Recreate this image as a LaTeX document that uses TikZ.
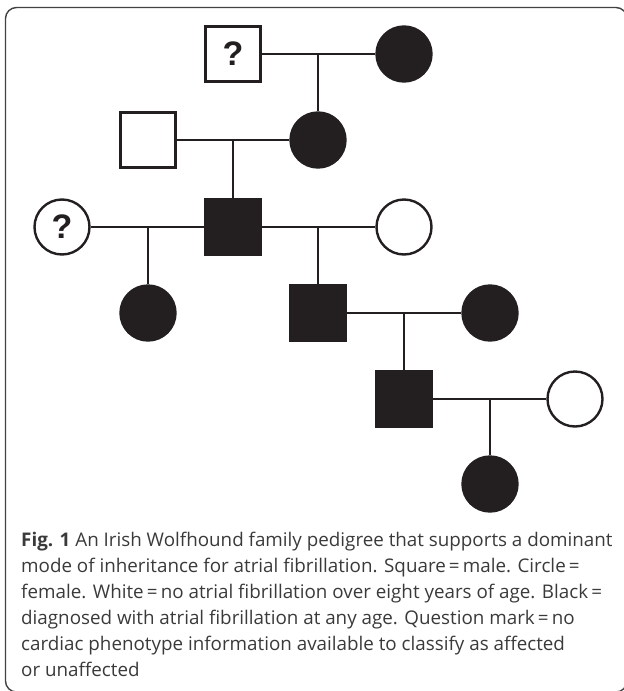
\documentclass[tikz,border=0pt]{standalone}
\usepackage{fontspec}
\setmainfont{Open Sans}
\newfontfamily\qfont{Liberation Sans}
\definecolor{ink}{HTML}{231F20}
\definecolor{captext}{HTML}{3A3A3A}
\begin{document}
\begin{tikzpicture}[x=1pt,y=-1pt,line width=2.4pt,
  person/.style={draw=ink,line width=2.4pt,minimum size=55pt,inner sep=0pt},
  male/.style={person,rectangle},
  female/.style={person,circle},
  aff/.style={fill=ink},
  unaff/.style={fill=white},
  unknown/.style={fill=white,font=\qfont\bfseries\fontsize{34}{34}\selectfont,text=ink},
  link/.style={draw=ink,line width=2.4pt}]
\useasboundingbox (0,0) rectangle (624,691);
\clip (0,0) rectangle (624,691);
% frame
\draw[ink!85,line width=1.4pt,rounded corners=11pt] (5.5,7.5) rectangle (627,692);

% generation 1
\node[male,unknown] (sire1) at (233,54) {?};
\node[female,aff]   (dam1)  at (404,54) {};
% generation 2
\node[male,unaff]   (sire2) at (148,140) {};
\node[female,aff]   (dam2)  at (318,140) {};
% generation 3
\node[female,unknown] (dam3a) at (62,227) {?};
\node[male,aff]       (sire3) at (233,227) {};
\node[female,unaff]   (dam3b) at (404,227) {};
% generation 4
\node[female,aff] (pup4)  at (148,313) {};
\node[male,aff]   (sire4) at (318,313) {};
\node[female,aff] (dam4)  at (490,313) {};
% generation 5
\node[male,aff]     (sire5) at (404,399) {};
\node[female,unaff] (dam5)  at (575,399) {};
% generation 6
\node[female,aff] (pup6) at (490,484) {};

% matings and offspring
\draw[link] (sire1) -- (dam1);
\draw[link] (dam2.north) -- (dam2.north |- sire1.east);
\draw[link] (sire2) -- (dam2);
\draw[link] (sire3.north) -- (sire3.north |- sire2.east);
\draw[link] (dam3a) -- (sire3);
\draw[link] (pup4.north) -- (pup4.north |- dam3a.east);
\draw[link] (sire3) -- (dam3b);
\draw[link] (sire4.north) -- (sire4.north |- sire3.east);
\draw[link] (sire4) -- (dam4);
\draw[link] (sire5.north) -- (sire5.north |- sire4.east);
\draw[link] (sire5) -- (dam5);
\draw[link] (pup6.north) -- (pup6.north |- sire5.east);

% caption (base = last line)
\node[anchor=base west,align=left,inner sep=0pt,text=captext,
  font=\fontsize{18.8}{26}\selectfont] (cap) at (20,676)
  {\textbf{Fig. 1} An Irish Wolfhound family pedigree that supports a dominant\\
   mode of inheritance for atrial fibrillation. Square\,=\,male. Circle\,=\\
   female. White\,=\,no atrial fibrillation over eight years of age. Black\,=\\
   diagnosed with atrial fibrillation at any age. Question mark\,=\,no\\
   cardiac phenotype information available to classify as affected\\
   or unaffected};
\end{tikzpicture}
\end{document}
